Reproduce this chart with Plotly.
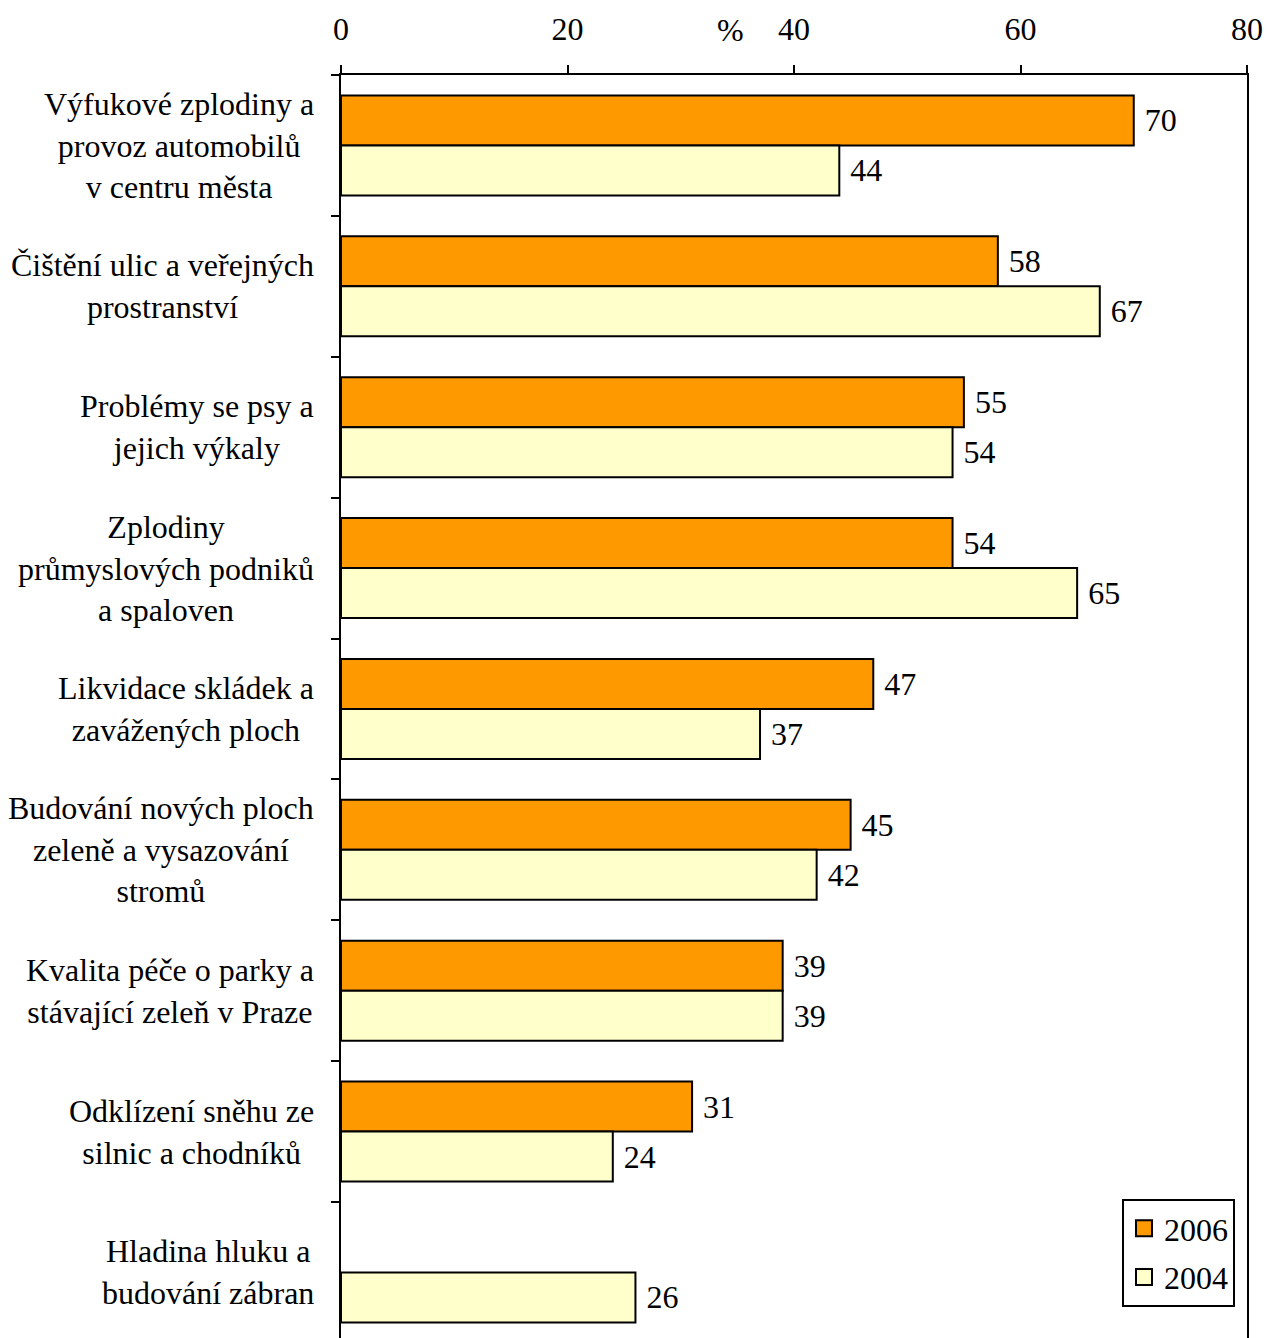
import plotly.graph_objects as go

categories = [
    "Výfukové zplodiny a<br>provoz automobilů<br>v centru města",
    "Čištění ulic a veřejných<br>prostranství",
    "Problémy se psy a<br>jejich výkaly",
    "Zplodiny<br>průmyslových podniků<br>a spaloven",
    "Likvidace skládek a<br>zavážených ploch",
    "Budování nových ploch<br>zeleně a vysazování<br>stromů",
    "Kvalita péče o parky a<br>stávající zeleň v Praze",
    "Odklízení sněhu ze<br>silnic a chodníků",
    "Hladina hluku a<br>budování zábran",
]
values_2006 = [70, 58, 55, 54, 47, 45, 39, 31, None]
values_2004 = [44, 67, 54, 65, 37, 42, 39, 24, 26]
x_ticks = [0, 20, 40, 60, 80]

FONT = "Liberation Serif"
FS = 32
W, H = 1267, 1338
L, R, T, B = 341, 20, 75, 0
C06, C04 = "#FF9900", "#FFFFCC"

fig = go.Figure()
for name, vals, col in [("2006", values_2006, C06), ("2004", values_2004, C04)]:
    fig.add_trace(go.Bar(
        name=name, y=categories, x=vals, orientation="h", showlegend=False,
        marker=dict(color=col, line=dict(color="black", width=2)),
        texttemplate="\u00a0%{x}", textposition="outside",
        textfont=dict(family=FONT, size=FS, color="black"), cliponaxis=False,
    ))
for name, col in [("2006", C06), ("2004", C04)]:
    fig.add_trace(go.Scatter(
        name=name, x=[None], y=[None], mode="markers", legendgroup=name,
        marker=dict(symbol="square", size=21, color=col,
                    line=dict(color="black", width=2)),
    ))

plot_w = W - L - R
for c in categories:
    fig.add_annotation(
        x=(315 - L) / plot_w, xref="paper", xanchor="right",
        y=c, yref="y", yanchor="middle", align="center",
        text=c, showarrow=False, borderpad=0,
        font=dict(family=FONT, size=FS, color="black"),
    )

fig.add_annotation(
    x=34.4, xref="x", y=1, yref="paper", yshift=45, yanchor="middle",
    text="%", showarrow=False, font=dict(family=FONT, size=FS, color="black"),
)

fig.update_layout(
    width=W, height=H,
    margin=dict(l=L, r=R, t=T, b=B),
    paper_bgcolor="white", plot_bgcolor="white",
    barmode="group", bargap=0.29, bargroupgap=0,
    font=dict(family=FONT, size=FS, color="black"),
    showlegend=True,
    legend=dict(
        x=(1235 - L) / plot_w, xanchor="right",
        y=(H - 1307) / (H - T), yanchor="bottom",
        bordercolor="black", borderwidth=2, bgcolor="white",
        traceorder="grouped", tracegroupgap=4,
        font=dict(family=FONT, size=FS),
        itemwidth=30,
    ),
    xaxis=dict(
        side="top", range=[0, 80], tickvals=x_ticks,
        ticks="outside", ticklen=8, tickwidth=2, tickcolor="black",
        showline=True, linewidth=2, linecolor="black",
        showgrid=False, zeroline=False, ticklabelstandoff=12,
        tickfont=dict(family=FONT, size=FS),
    ),
    yaxis=dict(
        type="category", range=[8.465, -0.5],
        ticks="outside", tickson="boundaries", ticklen=8, tickwidth=2,
        tickcolor="black", showline=True, linewidth=2, linecolor="black",
        mirror=True, showticklabels=False, showgrid=False, zeroline=False,
    ),
)

fig.write_html("out.html", config={"displayModeBar": False},
               post_script="document.body.style.margin='0';document.body.style.padding='0';")
